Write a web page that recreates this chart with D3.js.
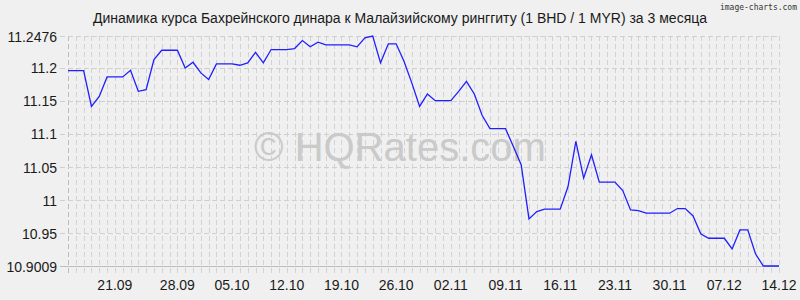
<!DOCTYPE html>
<html lang="ru">
<head>
  <meta charset="UTF-8">
  <title>BHD / MYR</title>
  <script src="https://d3js.org/d3.v7.min.js"></script>
  <style>
    body { margin: 0; background: #f0f0f0; }
    text { font-family: "Liberation Sans", Arial, sans-serif; fill: #1a1a1a; }
  </style>
</head>
<body>
  <div id="chart"></div>
  <script>

    // daily rate, 14.09 .. 14.12
    const rates = [
      11.1955, 11.1955, 11.1955, 11.1415, 11.1566, 11.1859, 11.1859, 11.1859,
      11.1959, 11.1642, 11.1668, 11.2121, 11.2261, 11.2261, 11.2261, 11.1995,
      11.2080, 11.1920, 11.1819, 11.2056, 11.2056, 11.2056, 11.2035, 11.2071,
      11.2231, 11.2071, 11.2272, 11.2272, 11.2272, 11.2287, 11.2408, 11.2313,
      11.2382, 11.2343, 11.2343, 11.2343, 11.2343, 11.2313, 11.2449, 11.2476,
      11.2071, 11.2358, 11.2358, 11.2095, 11.1769, 11.1415, 11.1603, 11.1501,
      11.1501, 11.1501, 11.1642, 11.1793, 11.1603, 11.1280, 11.1079, 11.1079,
      11.1079, 11.0811, 11.0535, 10.9719, 10.9829, 10.9865, 10.9865, 10.9865,
      11.0207, 11.0887, 11.0334, 11.0686, 11.0273, 11.0273, 11.0273, 11.0146,
      10.9855, 10.9844, 10.9805, 10.9805, 10.9805, 10.9805, 10.9875, 10.9875,
      10.9764, 10.9492, 10.9427, 10.9427, 10.9427, 10.9266, 10.9553, 10.9553,
      10.9190, 10.9009, 10.9009, 10.9009
    ];

    const yTicks = [10.9009, 10.95, 11, 11.05, 11.1, 11.15, 11.2, 11.2476];

    const xLabels = ['21.09', '28.09', '05.10', '12.10', '19.10', '26.10', '02.11',
      '09.11', '16.11', '23.11', '30.11', '07.12', '14.12'];
    const xLabelDays = [6, 14, 21, 28, 35, 42, 49, 56, 63, 70, 77, 84, 91];

    const title = 'Динамика курса Бахрейнского динара к Малайзийскому ринггиту (1 BHD / 1 MYR) за 3 месяца';

    const width = 800, height = 300;
    const plotLeft = 68, plotRight = 779, plotTop = 36, plotBottom = 266;

    const svg = d3.select('#chart').append('svg')
      .attr('width', width)
      .attr('height', height);

    svg.append('rect')
      .attr('width', width)
      .attr('height', height)
      .attr('fill', '#f0f0f0');

    const x = d3.scaleLinear().domain([0, rates.length - 1]).range([plotLeft, plotRight]);
    const y = d3.scaleLinear().domain([10.9009, 11.2476]).range([plotBottom, plotTop]);

    // vertical grid, one per day
    svg.append('g')
      .selectAll('line')
      .data(d3.range(rates.length))
      .enter()
      .append('line')
      .attr('x1', d => Math.round(x(d)) + 0.5)
      .attr('x2', d => Math.round(x(d)) + 0.5)
      .attr('y1', plotTop)
      .attr('y2', plotBottom + 10)
      .attr('stroke', d => d === 0 ? '#bdbdbd' : '#d2d2d2')
      .attr('stroke-dasharray', '5,3');

    // horizontal grid at ticks
    svg.append('g')
      .selectAll('line')
      .data(yTicks)
      .enter()
      .append('line')
      .attr('x1', plotLeft - 8)
      .attr('x2', plotRight)
      .attr('y1', d => Math.round(y(d)) + 0.5)
      .attr('y2', d => Math.round(y(d)) + 0.5)
      .attr('stroke', d => d === yTicks[0] ? '#bdbdbd' : '#cfcfcf')
      .attr('stroke-dasharray', d => d === yTicks[0] ? null : '5,3');

    // watermark
    svg.append('text')
      .attr('x', 400)
      .attr('y', 161)
      .attr('text-anchor', 'middle')
      .style('font-size', '40px')
      .style('fill', '#cacaca')
      .text('© HQRates.com');

    const line = d3.line()
      .x((d, i) => x(i))
      .y(d => y(d));

    svg.append('path')
      .datum(rates)
      .attr('d', line)
      .attr('fill', 'none')
      .attr('stroke', '#1f1fff')
      .attr('stroke-width', 1.3);

    // y axis labels
    svg.append('g')
      .selectAll('text')
      .data(yTicks)
      .enter()
      .append('text')
      .attr('x', 57)
      .attr('y', d => y(d) + 5.5)
      .attr('text-anchor', 'end')
      .style('font-size', '14px')
      .text(d => d);

    // x axis labels
    svg.append('g')
      .selectAll('text')
      .data(xLabels)
      .enter()
      .append('text')
      .attr('x', (d, i) => x(xLabelDays[i]))
      .attr('y', 290)
      .attr('text-anchor', 'middle')
      .style('font-size', '14px')
      .text(d => d);

    svg.append('text')
      .attr('x', 400)
      .attr('y', 23)
      .attr('text-anchor', 'middle')
      .style('font-size', '14px')
      .text(title);

    svg.append('text')
      .attr('x', 797)
      .attr('y', 10)
      .attr('text-anchor', 'end')
      .style('font-family', '"DejaVu Sans Mono", monospace')
      .style('font-size', '8px')
      .style('fill', '#333')
      .text('image-charts.com');

  </script>
</body>
</html>
